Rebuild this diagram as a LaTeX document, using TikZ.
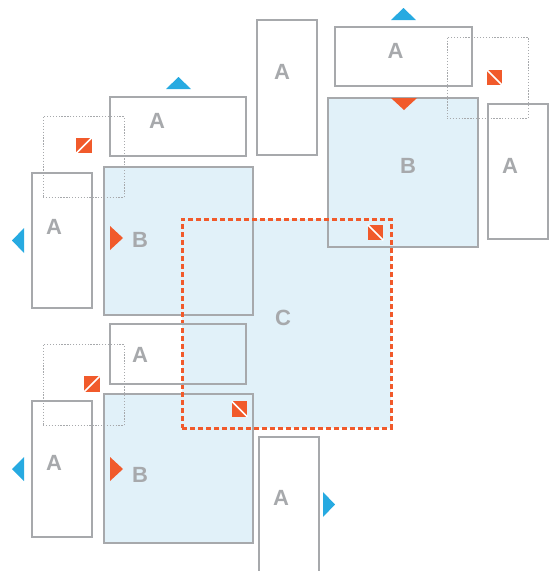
\documentclass[tikz,border=0pt]{standalone}
\usepackage{fontspec}
\setmainfont{Liberation Sans}
\definecolor{gline}{HTML}{A7A9AC}
\definecolor{bfill}{HTML}{E1F1F9}
\definecolor{redo}{HTML}{F15A2B}
\definecolor{blueo}{HTML}{27AAE1}
\begin{document}
\begin{tikzpicture}[x=1pt,y=-1pt,
  abox/.style={draw=gline,line width=1.5pt,inner sep=0pt,outer sep=0pt},
  bbox/.style={draw=gline,fill=bfill,line width=1.5pt,inner sep=0pt,outer sep=0pt},
  cfill/.style={fill=bfill,inner sep=0pt,outer sep=0pt},
  cline/.style={draw=redo,line width=3pt,dash pattern=on 5pt off 3pt,inner sep=0pt,outer sep=0pt},
  dotbox/.style={draw=gline,line width=0.9pt,dash pattern=on 1.3pt off 1.6pt,inner sep=0pt,outer sep=0pt,minimum width=81pt,minimum height=81pt},
  lbl/.style={text=gline,font=\fontsize{22}{25}\selectfont\bfseries,inner sep=0pt},
  rsq/.style={fill=redo,inner sep=0pt,outer sep=0pt,minimum size=15.5pt},
  diag/.style={draw=white,line width=1.6pt}
]
\useasboundingbox (0,0) rectangle (556,571);
\clip (0,0) rectangle (556,571);
% C fill
\node[cfill,minimum width=209pt,minimum height=209pt] (cf) at (286.5,323.5) {};
% B boxes
\node[bbox,minimum width=150pt,minimum height=149pt] (b1) at (403,172.5) {};
\node[bbox,minimum width=149pt,minimum height=148pt] (b2) at (178.5,241) {};
\node[bbox,minimum width=149pt,minimum height=149pt] (b3) at (178.5,468.5) {};
% C dashed border
\node[cline,minimum width=209pt,minimum height=209pt] (c) at (286.5,323.5) {};
% A boxes
\node[abox,minimum width=60pt,minimum height=135pt] (a1) at (287,87.5) {};
\node[abox,minimum width=137pt,minimum height=59pt] (a2) at (403.5,56.5) {};
\node[abox,minimum width=60pt,minimum height=135pt] (a3) at (518,171.5) {};
\node[abox,minimum width=136pt,minimum height=59pt] (a4) at (178,126.5) {};
\node[abox,minimum width=60pt,minimum height=135pt] (a5) at (62,240.5) {};
\node[abox,minimum width=136pt,minimum height=60pt] (a6) at (178,354) {};
\node[abox,minimum width=60pt,minimum height=136pt] (a7) at (62,469) {};
\node[abox,minimum width=60pt,minimum height=150pt] (a8) at (289,512) {};
% dotted boxes
\node[dotbox] (d1) at (487.5,77.5) {};
\node[dotbox] (d2) at (83.5,157) {};
\node[dotbox] (d3) at (83.5,385) {};
% labels
\node[lbl] (la1) at (282,71.5) {A};
\node[lbl] (la2) at (395.5,50.5) {A};
\node[lbl] (la3) at (510,166) {A};
\node[lbl] (lb1) at (408,166) {B};
\node[lbl] (la4) at (157,120.5) {A};
\node[lbl] (la5) at (54,227) {A};
\node[lbl] (lb2) at (140,240) {B};
\node[lbl] (lc) at (283,318) {C};
\node[lbl] (la6) at (140,355) {A};
\node[lbl] (la7) at (54,463) {A};
\node[lbl] (lb3) at (140,475) {B};
\node[lbl] (la8) at (281,498) {A};
% triangles
\fill[blueo] (391,20) -- (416,20) -- (403.5,8) -- cycle;
\fill[blueo] (166,89) -- (191,89) -- (178.5,77) -- cycle;
\fill[redo] (391,98) -- (417,98) -- (404,110) -- cycle;
\fill[blueo] (24,228) -- (24,253) -- (12,240.5) -- cycle;
\fill[redo] (110,226) -- (110,250) -- (123,238) -- cycle;
\fill[blueo] (24,457) -- (24,481) -- (12,469) -- cycle;
\fill[redo] (110,457) -- (110,481) -- (123,469) -- cycle;
\fill[blueo] (323,492) -- (323,517) -- (335,504.5) -- cycle;
% red squares
\node[rsq] (s1) at (494.5,77.5) {};
\draw[diag] (s1.north west) -- (s1.south east);
\node[rsq] (s2) at (375.5,232.5) {};
\draw[diag] (s2.north west) -- (s2.south east);
\node[rsq] (s3) at (84,145.5) {};
\draw[diag] (s3.south west) -- (s3.north east);
\node[rsq] (s4) at (92,384) {};
\draw[diag] (s4.south west) -- (s4.north east);
\node[rsq] (s5) at (239.5,409) {};
\draw[diag] (s5.north west) -- (s5.south east);
\end{tikzpicture}
\end{document}
